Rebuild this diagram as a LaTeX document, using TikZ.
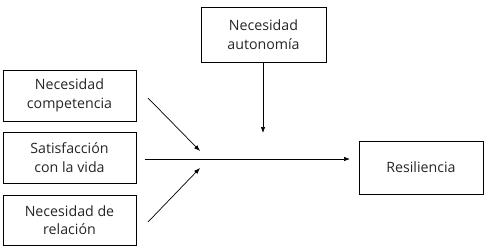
\documentclass[tikz,border=0pt]{standalone}
\usepackage{fontspec}
\setmainfont{Open Sans}
\usetikzlibrary{arrows.meta}
\begin{document}
\begin{tikzpicture}[x=1pt,y=-1pt,
  box/.style={draw,line width=0.8pt,align=center,inner sep=0pt,font=\fontsize{14.2}{18.5}\selectfont,text=black!85},
  arr/.style={line width=0.7pt,-{Latex[length=6pt,width=4.5pt]}}]
\useasboundingbox (0,0) rectangle (488,250);
\node[box,minimum width=133pt,minimum height=51pt] (comp) at (69.5,95.5) {Necesidad\\competencia};
\node[box,minimum width=133pt,minimum height=51pt] (sat) at (69.5,157.5) {Satisfacción\\con la vida};
\node[box,minimum width=133pt,minimum height=50pt] (rel) at (69.5,220) {Necesidad de\\relación};
\node[box,minimum width=125pt,minimum height=55pt] (aut) at (263.5,34.5) {Necesidad\\autonomía};
\node[box,minimum width=124pt,minimum height=53pt] (res) at (421,167.5) {Resiliencia};
\coordinate (c1) at (148,98);
\coordinate (t1) at (200,151);
\coordinate (c3) at (148,222);
\coordinate (t3) at (200,168);
\coordinate (h0) at (145,159);
\coordinate (h1) at (350,159);
\coordinate (v1) at (263,133);
\draw[arr] (c1) -- (t1);
\draw[arr] (c3) -- (t3);
\draw[arr] (h0) -- (h1);
\draw[arr] (aut.south -| v1) -- (v1);
\end{tikzpicture}
\end{document}
